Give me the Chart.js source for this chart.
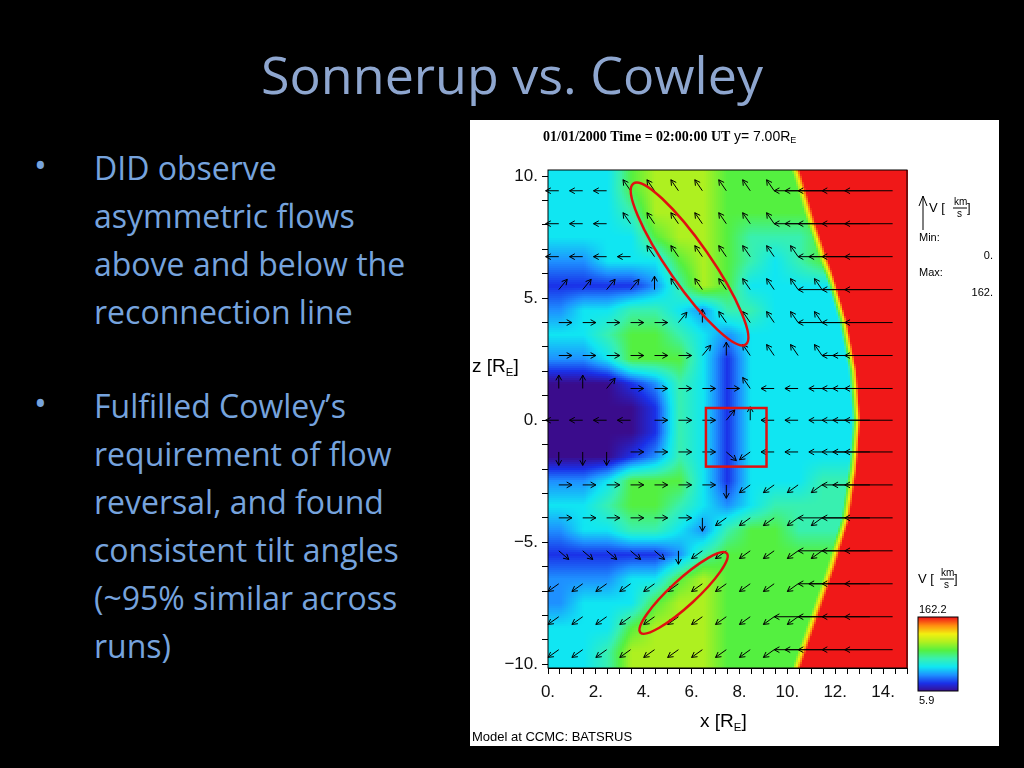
<!DOCTYPE html>
<html><head><meta charset="utf-8">
<script src="https://cdn.jsdelivr.net/npm/chart.js@4.4.1/dist/chart.umd.min.js"></script>
<style>
body{margin:0;width:1024px;height:768px;background:#000;overflow:hidden;font-family:"Open Sans",sans-serif;}
#title{position:absolute;top:38px;left:0;width:1024px;text-align:center;color:#8ea6cf;font-size:52px;font-family:"Open Sans";}
.b{position:absolute;left:94px;color:#76a3dd;font-size:32px;line-height:48px;}
.dot{position:absolute;left:34px;color:#76a3dd;font-size:34px;}
#panel{position:absolute;left:470px;top:120px;width:529px;height:626px;background:#fff;}
</style></head><body>
<div id="title">Sonnerup vs. Cowley</div>
<div class="dot" style="top:142px">•</div>
<div class="b" style="top:144px">DID observe<br>asymmetric flows<br>above and below the<br>reconnection line</div>
<div class="dot" style="top:380px">•</div>
<div class="b" style="top:382px">Fulfilled Cowley’s<br>requirement of flow<br>reversal, and found<br>consistent tilt angles<br>(~95% similar across<br>runs)</div>
<div id="panel"><canvas id="c" width="529" height="626"></canvas></div>
<script>
// speed level grid inside the magnetosheath: rows z = 9.5 .. -9.5, cols x = 0.5 .. 14.5 (0 slow/purple ... 9 fast/red)
const speedRows = [
"333566655555555",
"333466655555555",
"333356654445555",
"223335654345555",
"111124653333333",
"233443244333333",
"334554323333333",
"223555313333333",
"000124313333333",
"000014313333333",
"000014313333333",
"000124313333333",
"223555313334444",
"334554323444444",
"233443245544444",
"111112455555555",
"222335655555555",
"233356655555555",
"333566655555555",
"334666655555555"
];
// x where the red solar-wind region starts, at each z
const boundaryZ = [10.3,10,8,6,4,2,0,-2,-4,-6,-8,-10,-10.3];
const boundaryX = [10.5,10.6,11.2,11.9,12.5,12.9,13.05,12.9,12.6,12.0,11.3,10.6,10.5];
// flow arrows
const arrowX = [0.45,1.45,2.45,3.45,4.45,5.45,6.45,7.45,8.45,9.45,10.45,11.45,12.45,13.45,14.4];
const arrowZ = [9.4,8.05,6.7,5.35,4.0,2.65,1.3,0,-1.3,-2.65,-4.0,-5.35,-6.7,-8.05,-9.4];
const arrowRows = [
"LLLuuuuuuuLLLLL",
"LLLuuuuuuuLLLLL",
"LLLLuuuuuuuLLLL",
"rrrrUuuuuuuuLLL",
"RRRRRrUuuuuuLLL",
"RRRRRRrUuuuuLLL",
"UUrRRRRRuLLLLLL",
"LLLLRRRrULLLLLL",
"DDDRRRRedLLLLLL",
"RRRRRRRDddddLLL",
"RRRRRRDdddddLLL",
"eeeeeDddddddLLL",
"dddddddddddLLLL",
"dddddddddddLLLL",
"ddddddddddLLLLL"
];
const dirAngles = {L:180,R:0,U:90,D:270,u:125,r:50,d:215,e:320};
const xTicks = [0,2,4,6,8,10,12,14];
const zTicks = [-10,-5,0,5,10];
const colorStops = ["#3a0c8c","#1a30e8","#1e90ff","#10e6f2","#38f0b0","#54f040","#aef020","#f2f010","#ff9010","#f01818"];
const vMin = 5.9, vMax = 162.2;

function hex(c){return [parseInt(c.slice(1,3),16),parseInt(c.slice(3,5),16),parseInt(c.slice(5,7),16)];}
const stopsRGB = colorStops.map(hex);
function cmap(v){v=Math.max(0,Math.min(9,v));const i=Math.min(8,Math.floor(v)),t=v-i;const a=stopsRGB[i],b=stopsRGB[i+1];
 return `rgb(${a.map((x,k)=>Math.round(x+(b[k]-x)*t)).join(',')})`;}
function bnd(z){for(let k=0;k<boundaryZ.length-1;k++){if(z<=boundaryZ[k]&&z>=boundaryZ[k+1]){const t=(z-boundaryZ[k])/(boundaryZ[k+1]-boundaryZ[k]);return boundaryX[k]+(boundaryX[k+1]-boundaryX[k])*t;}}return boundaryX[0];}
function inner(x,z){
 const nc=speedRows[0].length,nr=speedRows.length;
 let fx=x-0.5, fz=9.5-z;
 fx=Math.max(0,Math.min(nc-1,fx)); fz=Math.max(0,Math.min(nr-1,fz));
 const i=Math.min(nc-2,Math.floor(fx)), j=Math.min(nr-2,Math.floor(fz)), tx=fx-i, tz=fz-j;
 const g=(r,c)=>+speedRows[r][c];
 return (g(j,i)*(1-tx)+g(j,i+1)*tx)*(1-tz)+(g(j+1,i)*(1-tx)+g(j+1,i+1)*tx)*tz;
}
function level(x,z){
 const b=bnd(z), w=0.35;
 if(x>=b) return 9;
 const v=inner(x,z);
 if(x>b-w){const t=(x-(b-w))/w;return v+(9-v)*t;}
 return v;
}

const fieldPlugin={id:'field',
 beforeDatasetsDraw(ch){
  const {ctx,chartArea:a,scales:{x,y}}=ch; const s=2;
  for(let px=a.left;px<a.right;px+=s){
   const vx=x.getValueForPixel(px+s/2);
   for(let py=a.top;py<a.bottom;py+=s){
    ctx.fillStyle=cmap(level(vx,y.getValueForPixel(py+s/2)));
    ctx.fillRect(px,py,s,s);
   }
  }
  ctx.strokeStyle='#000';ctx.lineWidth=1;
  arrowZ.forEach((z,r)=>arrowX.forEach((xv,c)=>{
   const ang=dirAngles[arrowRows[r][c]]*Math.PI/180;
   const fast=xv>bnd(z)-0.2;
   const len=fast?2.0:0.55;
   const x0=x.getPixelForValue(xv),y0=y.getPixelForValue(z);
   let x1=x.getPixelForValue(xv+len*Math.cos(ang)), y1=y.getPixelForValue(z+len*Math.sin(ang));
   const an=Math.atan2(y1-y0,x1-x0);
   ctx.beginPath();ctx.moveTo(x0,y0);ctx.lineTo(x1,y1);
   for(const d of [0.5,-0.5]){ctx.moveTo(x1,y1);ctx.lineTo(x1-6*Math.cos(an+d),y1-6*Math.sin(an+d));}
   ctx.stroke();
  }));
  ctx.strokeStyle='#e01010';ctx.lineWidth=2.5;
  const ell=(xa,za,xb,zb,minor)=>{const p1=[x.getPixelForValue(xa),y.getPixelForValue(za)],p2=[x.getPixelForValue(xb),y.getPixelForValue(zb)];
   const cx=(p1[0]+p2[0])/2,cy=(p1[1]+p2[1])/2,rot=Math.atan2(p2[1]-p1[1],p2[0]-p1[0]),maj=Math.hypot(p2[0]-p1[0],p2[1]-p1[1])/2;
   ctx.beginPath();ctx.ellipse(cx,cy,maj,minor,rot,0,2*Math.PI);ctx.stroke();};
  ell(3.57,9.7,8.26,3.1,21);
  ell(3.86,-8.7,7.47,-5.45,13);
  const rx0=x.getPixelForValue(6.6),rx1=x.getPixelForValue(9.13),ry0=y.getPixelForValue(0.5),ry1=y.getPixelForValue(-1.9);
  ctx.strokeRect(rx0,ry0,rx1-rx0,ry1-ry0);
  ctx.strokeStyle='#000';ctx.lineWidth=1;ctx.strokeRect(a.left,a.top,a.right-a.left,a.bottom-a.top);
 },
 afterDraw(ch){
  const ctx=ch.ctx;
  ctx.fillStyle='#000';ctx.strokeStyle='#000';
  ctx.textBaseline='middle';ctx.textAlign='left';
  ctx.font='bold 14px "Liberation Serif"';const t1='01/01/2000 Time = 02:00:00 UT ';ctx.fillText(t1,73,17);
  let px=73+ctx.measureText(t1).width;
  ctx.font='14px "Liberation Sans"';ctx.fillText('y= 7.00R',px,17);px+=ctx.measureText('y= 7.00R').width;
  ctx.font='9px "Liberation Sans"';ctx.fillText('E',px,21);
  const sub=(t,px,py,fs)=>{ctx.font=fs+'px "Liberation Sans"';ctx.fillText(t,px,py);const w=ctx.measureText(t).width;
    ctx.font=(fs*0.6)+'px "Liberation Sans"';ctx.fillText('E',px+w,py+fs*0.3);const w2=ctx.measureText('E').width;ctx.font=fs+'px "Liberation Sans"';ctx.fillText(']',px+w+w2,py);};
  sub('z [R',2,247,19); sub('x [R',230,602,19);
  ctx.font='13px "Liberation Sans"';ctx.fillText('Model at CCMC: BATSRUS',2,617);
  ctx.lineWidth=1;ctx.beginPath();ctx.moveTo(453,110);ctx.lineTo(453,76);ctx.moveTo(449,86);ctx.lineTo(453,76);ctx.lineTo(457,86);ctx.stroke();
  ctx.font='13px "Liberation Sans"';ctx.fillText('V [',459,88);ctx.font='10px "Liberation Sans"';ctx.fillText('km',484,82);ctx.fillText('s',487,94);
  ctx.beginPath();ctx.moveTo(483,88);ctx.lineTo(497,88);ctx.stroke();ctx.font='13px "Liberation Sans"';ctx.fillText(']',497,88);
  ctx.font='11px "Liberation Sans"';ctx.fillText('Min:',449,118);ctx.fillText('Max:',449,153);
  ctx.textAlign='right';ctx.fillText('0.',523,136);ctx.fillText('162.',523,173);ctx.textAlign='left';
  ctx.font='13px "Liberation Sans"';ctx.fillText('V [',448,459);ctx.font='10px "Liberation Sans"';ctx.fillText('km',471,453);ctx.fillText('s',474,465);
  ctx.beginPath();ctx.moveTo(470,459);ctx.lineTo(484,459);ctx.stroke();ctx.font='13px "Liberation Sans"';ctx.fillText(']',484,459);
  ctx.font='11px "Liberation Sans"';ctx.fillText(vMax.toFixed(1),449,490);ctx.fillText(vMin.toFixed(1),449,581);
  const bx=448,bt=497,bb=571;
  for(let py=bt;py<bb;py++){ctx.fillStyle=cmap(9*(bb-py)/(bb-bt));ctx.fillRect(bx,py,40,1);}
  ctx.strokeRect(bx,bt,40,bb-bt);
 }};

const fmt=v=>(v<0?'−':'')+Math.abs(v)+'.';
new Chart(document.getElementById('c'),{
 type:'scatter',
 data:{datasets:[{data:[],pointRadius:0}]},
 plugins:[fieldPlugin],
 options:{responsive:false,animation:false,
  layout:{padding:{left:0,right:92,top:50,bottom:0}},
  plugins:{legend:{display:false},tooltip:{enabled:false}},
  scales:{
   x:{type:'linear',min:0,max:15,afterFit:s=>{s.height=78;},
    afterBuildTicks:s=>{s.ticks=[];for(let i=0;i<=30;i++)s.ticks.push({value:i/2});},
    grid:{drawOnChartArea:false,tickLength:6,color:'#000'},border:{color:'#000'},
    ticks:{autoSkip:false,maxRotation:0,color:'#111',font:{size:17,family:'Liberation Sans'},padding:8,
     callback:v=>xTicks.includes(v)?fmt(v):''}},
   y:{type:'linear',min:-10.15,max:10.25,afterFit:s=>{s.width=78;},
    afterBuildTicks:s=>{s.ticks=[];for(let i=-10;i<=10;i++)s.ticks.push({value:i});},
    grid:{drawOnChartArea:false,tickLength:6,color:'#000'},border:{color:'#000'},
    ticks:{autoSkip:false,color:'#111',font:{size:17,family:'Liberation Sans'},padding:4,
     callback:v=>zTicks.includes(v)?fmt(v):''}}
  }}
});
</script></body></html>
